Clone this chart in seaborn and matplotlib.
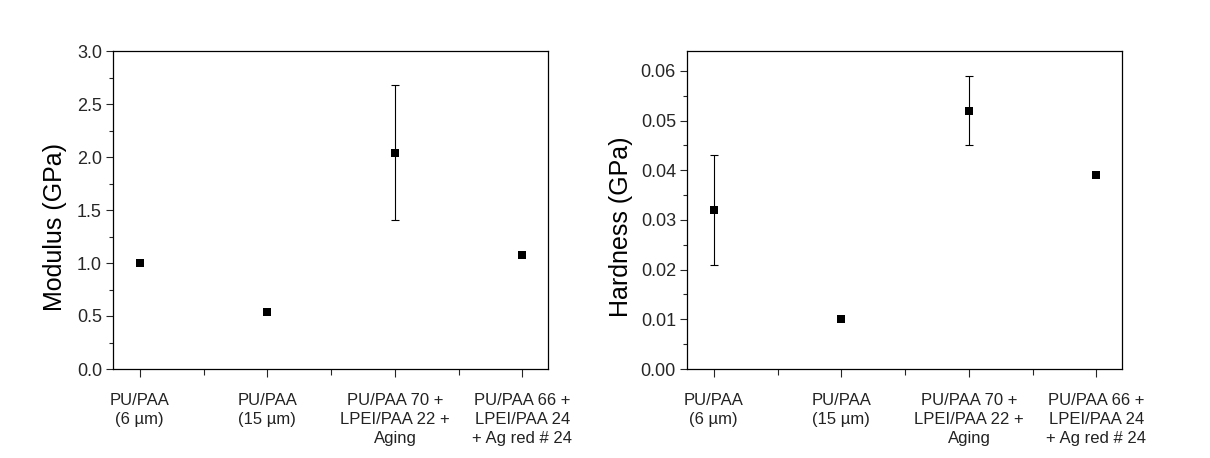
import matplotlib
matplotlib.use("Agg")
import matplotlib.pyplot as plt
import seaborn as sns
import numpy as np
import pandas as pd
from matplotlib.ticker import MultipleLocator, FixedLocator

categories = ["PU/PAA\n(6 µm)", "PU/PAA\n(15 µm)",
              "PU/PAA 70 +\nLPEI/PAA 22 +\nAging",
              "PU/PAA 66 +\nLPEI/PAA 24\n+ Ag red # 24"]
modulus = [1.00, 0.54, 2.04, 1.075]
modulus_err = [0.0, 0.0, 0.635, 0.0]
hardness = [0.032, 0.010, 0.052, 0.039]
hardness_err = [0.011, 0.0, 0.007, 0.0]

sns.set_style("ticks")
plt.rcParams['font.family'] = ['Liberation Sans', 'DejaVu Sans']
plt.rcParams['text.color'] = '#1a1a1a'

fig = plt.figure(figsize=(12.1, 4.58), dpi=100)
W, H = 1210, 458

def make_ax(x0, x1, y0, y1):
    return fig.add_axes([x0 / W, (H - y1) / H, (x1 - x0) / W, (y1 - y0) / H])

ax1 = make_ax(113, 548, 51, 369)
ax2 = make_ax(687, 1122, 51, 369)

def draw(ax, vals, errs, ylabel, ylim, major, minor, fmt):
    df = pd.DataFrame({"x": np.arange(len(categories)), "y": vals})
    err = np.array(errs)
    mask = err > 0
    ax.errorbar(df["x"][mask], df["y"][mask], yerr=err[mask], fmt='none',
                ecolor='black', elinewidth=0.8, capsize=3, capthick=0.8, zorder=2)
    sns.scatterplot(data=df, x="x", y="y", marker='s', s=40, color='black',
                    edgecolor='black', linewidth=0, ax=ax, zorder=3, legend=False)
    ax.set_xlim(-0.21, 3.2)
    ax.set_ylim(*ylim)
    ax.xaxis.set_major_locator(FixedLocator(range(len(categories))))
    ax.xaxis.set_minor_locator(FixedLocator([0.5, 1.5, 2.5]))
    ax.set_xticklabels(categories, fontsize=12, ha='center', linespacing=1.35,
                       color='#222222')
    ax.yaxis.set_major_locator(MultipleLocator(major))
    ax.yaxis.set_minor_locator(MultipleLocator(minor))
    ax.yaxis.set_major_formatter(matplotlib.ticker.FormatStrFormatter(fmt))
    ax.tick_params(axis='y', which='major', direction='out', length=5, width=0.8,
                   labelsize=13, pad=3)
    ax.tick_params(axis='y', which='minor', direction='out', length=3, width=0.8)
    ax.tick_params(axis='x', which='major', direction='out', length=6, width=0.8, pad=11)
    ax.tick_params(axis='x', which='minor', direction='out', length=4, width=0.8)
    ax.set_xlabel("")
    ax.set_ylabel(ylabel, fontsize=18, color='black')
    for s in ax.spines.values():
        s.set_visible(True)
        s.set_linewidth(0.9)
        s.set_color('black')

draw(ax1, modulus, modulus_err, "Modulus (GPa)", (0, 3.0), 0.5, 0.25, '%.1f')
draw(ax2, hardness, hardness_err, "Hardness (GPa)", (0, 0.064), 0.01, 0.005, '%.2f')

# place y labels at the reference positions (figure coords; x is the label's right edge)
for ax, xr in ((ax1, 67), (ax2, 633)):
    ax.yaxis.set_label_coords(xr / W, 1 - 227 / H, transform=fig.transFigure)

fig.savefig("out.png", dpi=100)
